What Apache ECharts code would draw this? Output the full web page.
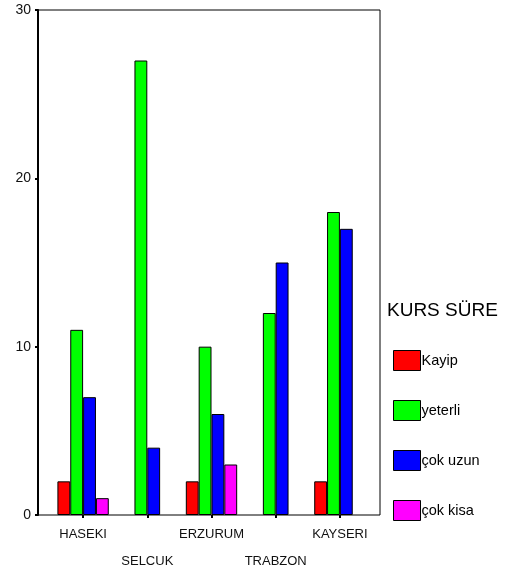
<!DOCTYPE html>
<html>
<head>
<meta charset="utf-8">
<script src="https://cdn.jsdelivr.net/npm/echarts@6/dist/echarts.min.js"></script>
<style>html,body{margin:0;padding:0;background:#fff;}#c{width:511px;height:573px;}</style>
</head>
<body>
<div id="c"></div>
<script>
const categories = ['HASEKI', 'SELCUK', 'ERZURUM', 'TRABZON', 'KAYSERI'];
const seriesNames = ['Kayip', 'yeterli', 'çok uzun', 'çok kisa'];
const kayip = [2, 0, 2, 0, 2];
const yeterli = [11, 27, 10, 12, 18];
const cokUzun = [7, 4, 6, 15, 17];
const cokKisa = [1, 0, 3, 0, 0];
const yTicks = [0, 10, 20, 30];
const legendTitle = 'KURS SÜRE';
const colors = ['#ff0000', '#00ff00', '#0000ff', '#ff00ff'];

const seriesData = [kayip, yeterli, cokUzun, cokKisa];
const font = '"Liberation Sans", Arial, sans-serif';

const chart = echarts.init(document.getElementById('c'), null, {renderer: 'canvas'});
chart.setOption({
  animation: false,
  backgroundColor: '#fff',
  title: {
    text: legendTitle, left: 387, top: 301, padding: 0,
    textStyle: {fontFamily: font, fontSize: 19, fontWeight: 'normal', color: '#000'}
  },
  legend: {
    orient: 'vertical', left: 393, top: 350, padding: 0,
    itemWidth: 27, itemHeight: 20, itemGap: 29,
    icon: 'rect',
    data: seriesNames,
    textStyle: {fontFamily: font, fontSize: 14.5, color: '#000', padding: [2, 0, 0, -4]},
    itemStyle: {borderColor: '#000', borderWidth: 1}
  },
  grid: [
    {left: 38, right: 131, top: 10, bottom: 58, show: true, borderColor: '#000', borderWidth: 1, backgroundColor: 'transparent', outerBoundsMode: 'none', containLabel: false},
    {left: 51, width: 321, top: 10, bottom: 58, outerBoundsMode: 'none', containLabel: false}
  ],
  xAxis: [
    {gridIndex: 0, type: 'value', show: false, min: 0, max: 1},
    {
      gridIndex: 1, type: 'category', data: categories,
      axisLine: {show: false},
      axisTick: {show: true, alignWithLabel: true, length: 3, lineStyle: {color: '#000', width: 2}},
      axisLabel: {
        interval: 0, margin: 6, fontFamily: font, fontSize: 13, color: '#111', lineHeight: 27,
        formatter: function (v, i) { return i % 2 === 1 ? '\n' + v : v; }
      }
    }
  ],
  yAxis: [
    {
      gridIndex: 0, type: 'value', min: yTicks[0], max: yTicks[yTicks.length - 1], interval: 10,
      axisLine: {show: true, lineStyle: {color: '#000', width: 2}},
      axisTick: {show: true, length: 3, lineStyle: {color: '#000', width: 2}},
      axisLabel: {margin: 7, fontFamily: font, fontSize: 14, color: '#111'},
      splitLine: {show: false}
    },
    {gridIndex: 1, type: 'value', min: yTicks[0], max: yTicks[yTicks.length - 1], show: false, splitLine: {show: false}}
  ],
  series: seriesNames.map((n, i) => ({
    name: n, type: 'bar', xAxisIndex: 1, yAxisIndex: 1,
    data: seriesData[i].map(v => v === 0 ? '-' : v),
    barGap: '0%', barCategoryGap: '20%',
    itemStyle: {color: colors[i], borderColor: '#000', borderWidth: 1}
  }))
});
</script>
</body>
</html>
